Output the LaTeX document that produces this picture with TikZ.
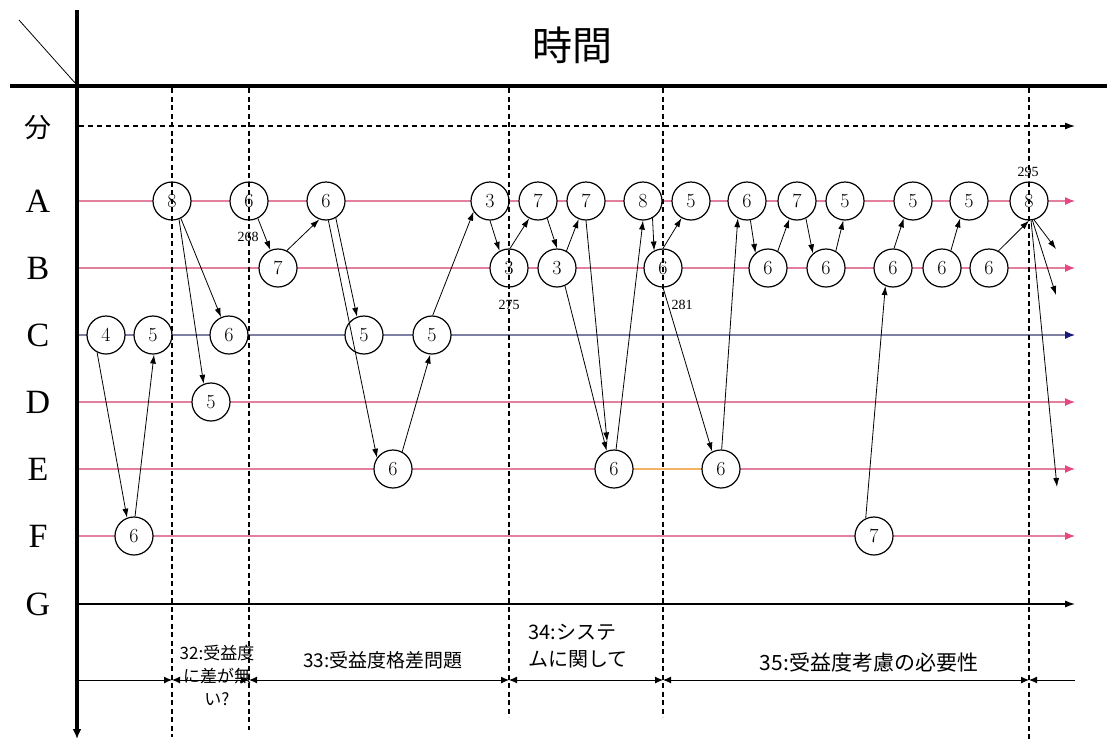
\documentclass[tikz,border=0pt]{standalone}
\usepackage{fontspec}
\newfontfamily\cjk{Noto Sans CJK JP}
\newfontfamily\tms{Liberation Serif}
\usetikzlibrary{arrows.meta}
\definecolor{rowpink}{RGB}{226,128,158}
\definecolor{tippink}{RGB}{230,70,130}
\definecolor{cline}{RGB}{125,128,162}
\definecolor{tipnavy}{RGB}{25,25,120}
\definecolor{orangeseg}{RGB}{242,180,100}
\tikzset{bt/.tip={Latex[length=8pt,width=7pt]}}
\begin{document}
\begin{tikzpicture}[x=1pt,y=-1pt,
  st/.style={circle,draw,line width=1.2pt,fill=white,minimum size=38pt,inner sep=0pt,font=\fontsize{20}{20}\selectfont},
  con/.style={line width=0.8pt,-{Latex[length=9pt,width=6pt]}},
  rowp/.style={rowpink,line width=1.2pt,-{Latex[color=tippink,length=10pt,width=8pt]}},
  rowc/.style={cline,line width=1.2pt,-{Latex[color=tipnavy,length=10pt,width=8pt]}},
  rowk/.style={black,line width=1.1pt,-{Latex[length=10pt,width=7pt]}},
  vdash/.style={line width=1.1pt,dash pattern=on 5pt off 3.5pt},
  lab/.style={font=\tms\fontsize{34}{34}\selectfont},
  num/.style={font=\tms\fontsize{14}{14}\selectfont},
  axis/.style={line width=3.5pt}
]
\useasboundingbox (0,0) rectangle (1107,739);
% axes
\coordinate (vt) at (77,10);
\coordinate (vb) at (77,739);
\coordinate (hl) at (10,86);
\coordinate (hr) at (1107,86);
\coordinate (dg1) at (19,20);
\coordinate (dg2) at (76,84);
\draw[axis,-{Latex[length=10pt,width=9pt]}] (vt) -- (vb);
\draw[axis] (hl) -- (hr);
\draw[line width=0.8pt] (dg1) -- (dg2);
\node[font=\cjk\fontsize{40}{40}\selectfont] (title) at (572,45) {時間};
% row labels
\node[font=\cjk\fontsize{27}{27}\selectfont] (lfen) at (38,128) {分};
\node[lab] (lA) at (38,201) {A};
\node[lab] (lB) at (38,268) {B};
\node[lab] (lC) at (38,335) {C};
\node[lab] (lD) at (38,402) {D};
\node[lab] (lE) at (38,469) {E};
\node[lab] (lF) at (38,536) {F};
\node[lab] (lG) at (38,604) {G};
% row lines
\foreach \n/\y in {fen/126,A/201,B/268,C/335,D/402,E/469,F/536,G/604,T/680}{
  \coordinate (s\n) at (79,\y);
  \coordinate (z\n) at (1075,\y);
}
\draw[rowk,dash pattern=on 5pt off 4pt] (sfen) -- (zfen);
\draw[rowp] (sA) -- (zA);
\draw[rowp] (sB) -- (zB);
\draw[rowc] (sC) -- (zC);
\draw[rowp] (sD) -- (zD);
\draw[rowp] (sE) -- (zE);
\draw[rowp] (sF) -- (zF);
\draw[rowk] (sG) -- (zG);
% nodes
\node[st] (a1) at (172,201) {8};
\node[st] (a2) at (249,201) {6};
\node[st] (a3) at (326,201) {6};
\node[st] (a4) at (490,201) {3};
\node[st] (a5) at (538,201) {7};
\node[st] (a6) at (586,201) {7};
\node[st] (a7) at (643,201) {8};
\node[st] (a8) at (691,201) {5};
\node[st] (a9) at (747,201) {6};
\node[st] (a10) at (797,201) {7};
\node[st] (a11) at (845,201) {5};
\node[st] (a12) at (913,201) {5};
\node[st] (a13) at (969,201) {5};
\node[st] (a14) at (1029,201) {8};
\node[st] (b1) at (278,268) {7};
\node[st] (b2) at (509,268) {3};
\node[st] (b3) at (557,268) {3};
\node[st] (b4) at (663,268) {6};
\node[st] (b5) at (768,268) {6};
\node[st] (b6) at (826,268) {6};
\node[st] (b7) at (893,268) {6};
\node[st] (b8) at (942,268) {6};
\node[st] (b9) at (989,268) {6};
\node[st] (c1) at (106,335) {4};
\node[st] (c2) at (153,335) {5};
\node[st] (c3) at (229,335) {6};
\node[st] (c4) at (364,335) {5};
\node[st] (c5) at (432,335) {5};
\node[st] (d1) at (211,402) {5};
\node[st] (e1) at (393,469) {6};
\node[st] (e2) at (614,469) {6};
\node[st] (e3) at (721,469) {6};
\node[st] (f1) at (134,536) {6};
\node[st] (f2) at (874,536) {7};
\draw[orangeseg,line width=1.2pt] (e2) -- (e3);
% numbers
\node[num] (n268) at (248,237) {268};
\node[num] (n275) at (509,305) {275};
\node[num] (n281) at (682,305) {281};
\node[num] (n295) at (1028,172) {295};
% connectors
\draw[con] (c1.243) -- (f1.111);
\draw[con] (f1.87) -- (c2.273);
\draw[con] (a1.297) -- (c3.114);
\draw[con] (a1.291) -- (d1.112);
\draw[con] (a2.297) -- (b1.113);
\draw[con] (b1.63) -- (a3.250);
\draw[con] (a3.300) -- (c4.111);
\draw[con] (a3.277) -- (e1.145);
\draw[con] (e1.62) -- (c5.265);
\draw[con] (c5.88) -- (a4.213);
\draw[con] (a4.270) -- (b2.119);
\draw[con] (b2.87) -- (a5.243);
\draw[con] (a5.298) -- (b3.90);
\draw[con] (b3.61) -- (a6.248);
\draw[con] (a7.299) -- (b4.117);
\draw[con] (b4.90) -- (a8.241);
\draw[con] (b3.294) -- (e2.112);
\draw[con,shorten >=9pt] (a6.270) -- (e2.108);
\draw[con] (e2.84) -- (a7.270);
\draw[con] (b4.270) -- (e3.117);
\draw[con] (e3.88) -- (a9.242);
\draw[con] (a9.280) -- (b5.130);
\draw[con] (b5.60) -- (a10.247);
\draw[con] (a10.297) -- (b6.132);
\draw[con] (b6.60) -- (a11.265);
\draw[con] (f2.115) -- (b7.247);
\draw[con] (b7.87) -- (a12.242);
\draw[con] (b8.63) -- (a13.243);
\draw[con] (b9.61) -- (a14.270);
\coordinate (x1) at (1056,249);
\coordinate (x2) at (1056,295);
\coordinate (x3) at (1057,487);
\draw[con] (a14.285) -- (x1);
\draw[con] (a14.280) -- (x2);
\draw[con] (a14.276) -- (x3);
% dashed dividers
\foreach \i/\x/\yb in {1/172/737,2/249/730,3/509/717,4/663/717,5/1029/739}{
  \coordinate (p\i) at (\x,88);
  \coordinate (q\i) at (\x,\yb);
  \coordinate (t\i) at (\x,680);
  \draw[vdash] (p\i) -- (q\i);
}
% bottom timeline
\draw[line width=1pt,-{bt}] (sT) -- (t1);
\draw[line width=1pt,{bt}-{bt}] (t1) -- (t2);
\draw[line width=1pt,{bt}-{bt}] (t2) -- (t3);
\draw[line width=1pt,{bt}-{bt}] (t3) -- (t4);
\draw[line width=1pt,{bt}-{bt}] (t4) -- (t5);
\draw[line width=1pt,{bt}-] (t5) -- (zT);
% bottom labels
\node[font=\cjk\fontsize{17}{23}\selectfont,align=center] (L32) at (217,675) {32:受益度\\に差が無\\い?};
\node[font=\cjk\fontsize{19}{19}\selectfont] (L33) at (383,660) {33:受益度格差問題};
\node[font=\cjk\fontsize{20}{27}\selectfont,align=left,anchor=west] (L34) at (525,646) {34:システ\\ムに関して};
\node[font=\cjk\fontsize{21}{21}\selectfont] (L35) at (869,662) {35:受益度考慮の必要性};
\end{tikzpicture}
\end{document}
